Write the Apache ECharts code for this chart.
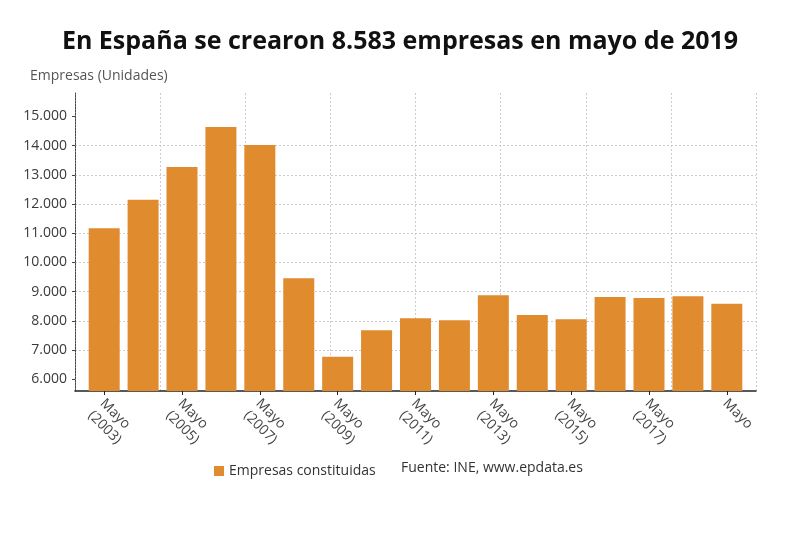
<!DOCTYPE html>
<html lang="es">

<head>
    <meta charset="UTF-8">
    <title>Empresas constituidas</title>
    <script src="https://cdn.jsdelivr.net/npm/echarts@6/dist/echarts.min.js"></script>
    <style>
        body { margin: 0; background: #fff; }
        #main { width: 800px; height: 539px; }
    </style>
</head>

<body>
    <div id="main"></div>
    <script>
        // datos
        const years = [2003, 2004, 2005, 2006, 2007, 2008, 2009, 2010, 2011, 2012, 2013, 2014, 2015, 2016, 2017, 2018, 2019];
        const empresas = [11170, 12150, 13265, 14635, 14020, 9460, 6770, 7680, 8090, 8020, 8875, 8205, 8060, 8820, 8785, 8840, 8583];
        const labelYears = [2003, 2005, 2007, 2009, 2011, 2013, 2015, 2017, 2019];
        const labelTexts = ['Mayo\n(2003)', 'Mayo\n(2005)', 'Mayo\n(2007)', 'Mayo\n(2009)', 'Mayo\n(2011)', 'Mayo\n(2013)', 'Mayo\n(2015)', 'Mayo\n(2017)', 'Mayo'];
        const yTicks = [6000, 7000, 8000, 9000, 10000, 11000, 12000, 13000, 14000, 15000];

        const font = '"Open Sans", "Noto Sans", sans-serif';
        const orange = '#e18b2f';

        let myChart = echarts.init(document.getElementById('main'));

        let option = {
            backgroundColor: '#fff',
            textStyle: { fontFamily: font },
            title: {
                text: 'En España se crearon 8.583 empresas en mayo de 2019',
                left: 'center',
                top: 24,
                textStyle: { fontFamily: font, fontSize: 25, fontWeight: 'bold', color: '#111' }
            },
            legend: {
                data: ['Empresas constituidas'],
                left: 209,
                top: 459,
                itemWidth: 10,
                itemHeight: 10,
                icon: 'rect',
                textStyle: { fontFamily: font, fontSize: 14, color: '#333' }
            },
            graphic: [{
                type: 'text',
                left: 401,
                top: 461,
                style: { text: 'Fuente: INE, www.epdata.es', font: '14px ' + font, fill: '#333' }
            }],
            grid: { left: 75, right: 44, top: 93, bottom: 148 },
            xAxis: [{
                type: 'value',
                min: 2002.25,
                max: 2019.75,
                axisLine: { show: true, lineStyle: { color: '#222', width: 1.5 } },
                axisTick: { show: true, customValues: labelYears, length: 4, lineStyle: { color: '#222' } },
                axisLabel: {
                    customValues: labelYears,
                    rotate: -45,
                    fontSize: 14,
                    color: '#444',
                    lineHeight: 17,
                    verticalAlign: 'top',
                    margin: 0,
                    padding: [0, 0, 0, 6],
                    formatter: function (v) { return labelTexts[labelYears.indexOf(v)]; }
                },
                splitLine: { show: false }
            }, {
                type: 'value',
                min: 0,
                max: 8,
                interval: 1,
                position: 'bottom',
                axisLine: { show: false },
                axisTick: { show: false },
                axisLabel: { show: false },
                splitLine: { show: true, lineStyle: { color: '#ccc', type: [2, 2] } }
            }],
            yAxis: {
                type: 'value',
                name: 'Empresas (Unidades)',
                nameLocation: 'end',
                nameGap: 10,
                nameTextStyle: { fontSize: 14, color: '#555', align: 'left', padding: [0, 0, 0, -45] },
                min: 5600,
                max: 15800,
                splitNumber: 10,
                axisLine: { show: true, lineStyle: { color: '#444', type: [2, 1] } },
                axisTick: { show: true, customValues: yTicks, length: 3, lineStyle: { color: '#444' } },
                axisLabel: {
                    customValues: yTicks,
                    fontSize: 14,
                    color: '#3a3a3a',
                    margin: 8,
                    formatter: function (v) { return v.toLocaleString('de-DE'); }
                },
                splitLine: { show: true, showMinLine: false, showMaxLine: false, lineStyle: { color: '#ccc', type: [2, 2] } }
            },
            series: [{
                name: 'Empresas constituidas',
                type: 'bar',
                barWidth: 31,
                itemStyle: { color: orange },
                data: years.map(function (y, i) { return [y, empresas[i]]; })
            }]
        };

        myChart.setOption(option);
    </script>
</body>

</html>
